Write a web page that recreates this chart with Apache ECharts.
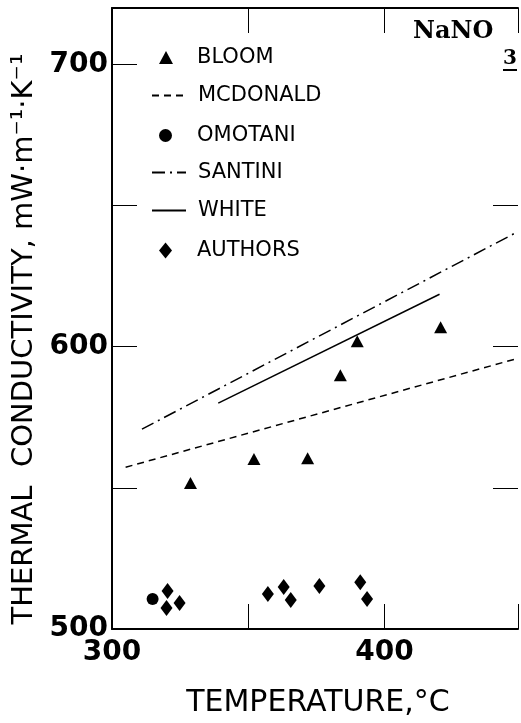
<!DOCTYPE html>
<html>
<head>
<meta charset="utf-8">
<script src="https://cdn.jsdelivr.net/npm/echarts@6/dist/echarts.min.js"></script>
<style>
  html, body { margin: 0; padding: 0; background: #fff; }
  #chart { width: 521px; height: 723px; }
</style>
</head>
<body>
<div id="chart"></div>
<script>
// datos (NaNO3)
const bloomT = [328.8, 352.1, 371.8, 383.8, 390.0, 420.6];
const bloomK = [551.7, 560.2, 560.5, 589.9, 601.9, 606.9];

const authorsT = [320.4, 320.0, 324.8, 357.2, 363.0, 365.6, 376.1, 391.1, 393.6];
const authorsK = [513.5, 507.4, 509.2, 512.4, 514.9, 510.3, 515.2, 516.6, 510.6];

const omotaniT = [314.9];
const omotaniK = [510.6];

// rectas: [T inicial, T final], [K inicial, K final]
const mcdonaldT = [305, 449];
const mcdonaldK = [557.3, 595.9];
const santiniT = [311, 449];
const santiniK = [570.8, 640.8];
const whiteT = [339, 420.2];
const whiteK = [580.0, 618.6];

const xLabels = [300, 400];
const yLabels = [500, 600, 700];
const rightTicks = [550, 600, 650];

const pares = (xs, ys) => xs.map((x, i) => [x, ys[i]]);

const chart = echarts.init(document.getElementById('chart'));

const negro = '#000';
const fuente = 'DejaVu Sans';
const relleno = { color: negro, opacity: 1 };

const ejeBase = {
  axisLine: { show: true, lineStyle: { color: negro, width: 2 } },
  axisTick: { show: true, inside: true, length: 25, lineStyle: { color: negro, width: 1 } },
  splitLine: { show: false }
};

// una leyenda por fila, para que los simbolos no se deformen
const filasLeyenda = [
  { name: 'BLOOM', icon: 'triangle', w: 14, h: 13, y: 57 },
  { name: 'MCDONALD', y: 95 },
  { name: 'OMOTANI', icon: 'circle', w: 13, h: 13, y: 135 },
  { name: 'SANTINI', y: 172 },
  { name: 'WHITE', y: 210 },
  { name: 'AUTHORS', icon: 'diamond', w: 13, h: 16, y: 250 }
];

const leyendas = filasLeyenda.map(f => {
  const esSimbolo = !!f.icon;
  return {
    orient: 'vertical',
    left: esSimbolo ? 159 : 151,
    top: f.y - 10,
    padding: 0,
    itemWidth: esSimbolo ? f.w : 34,
    itemHeight: esSimbolo ? f.h : 13,
    textStyle: {
      color: negro, fontSize: 21, fontFamily: fuente, lineHeight: 20,
      padding: [0, 0, 0, esSimbolo ? 33 - f.w : 7]
    },
    data: [esSimbolo
      ? { name: f.name, icon: f.icon, itemStyle: relleno }
      : { name: f.name, itemStyle: { opacity: 0 } }]
  };
});

let option = {
  backgroundColor: '#fff',
  animation: false,
  color: [negro],
  grid: { left: 112, top: 8, right: 0, bottom: 94 },
  legend: leyendas,
  xAxis: [
    Object.assign({}, ejeBase, {
      type: 'value', position: 'bottom', min: 300, max: 449, interval: 50,
      axisLabel: {
        color: negro, fontSize: 28, fontWeight: 'bold', fontFamily: fuente, margin: 10,
        formatter: v => (xLabels.includes(v) ? String(v) : '')
      },
      name: 'TEMPERATURE,°C',
      nameLocation: 'middle',
      nameGap: 59,
      nameTextStyle: { color: negro, fontSize: 30, fontFamily: fuente, padding: [0, 0, 0, 6] }
    }),
    Object.assign({}, ejeBase, {
      type: 'value', position: 'top', min: 300, max: 449, interval: 50,
      axisLabel: { show: false }
    })
  ],
  yAxis: [
    Object.assign({}, ejeBase, {
      type: 'value', position: 'left', min: 500, max: 720, interval: 50,
      axisLabel: {
        color: negro, fontSize: 28, fontWeight: 'bold', fontFamily: fuente, margin: 4,
        formatter: v => (yLabels.includes(v) ? String(v) : '')
      },
      name: 'THERMAL  CONDUCTIVITY, mW·m⁻¹·K⁻¹',
      nameLocation: 'middle',
      nameGap: 66,
      nameTextStyle: { color: negro, fontSize: 29, fontFamily: fuente, padding: [0, 41, 0, 0] }
    }),
    Object.assign({}, ejeBase, {
      type: 'value', position: 'right', min: 500, max: 720, interval: 50,
      axisLine: { show: false },
      axisTick: Object.assign({}, ejeBase.axisTick, { customValues: rightTicks }),
      axisLabel: { show: false }
    })
  ],
  series: [
    {
      name: 'BLOOM', type: 'scatter', symbol: 'triangle', symbolSize: [13, 12],
      itemStyle: relleno, data: pares(bloomT, bloomK)
    },
    {
      name: 'MCDONALD', type: 'line', symbol: 'none',
      lineStyle: { color: negro, width: 1.5, type: [7, 5] },
      data: pares(mcdonaldT, mcdonaldK)
    },
    {
      name: 'OMOTANI', type: 'scatter', symbol: 'circle', symbolSize: 12,
      itemStyle: relleno, data: pares(omotaniT, omotaniK)
    },
    {
      name: 'SANTINI', type: 'line', symbol: 'none',
      lineStyle: { color: negro, width: 1.5, type: [13, 5, 2, 5] },
      data: pares(santiniT, santiniK)
    },
    {
      name: 'WHITE', type: 'line', symbol: 'none',
      lineStyle: { color: negro, width: 1.5 },
      data: pares(whiteT, whiteK)
    },
    {
      name: 'AUTHORS', type: 'scatter', symbol: 'diamond', symbolSize: [12, 16],
      itemStyle: relleno, data: pares(authorsT, authorsK)
    }
  ],
  graphic: [
    {
      type: 'text', left: 413, top: 20,
      style: { text: 'NaNO', fill: negro, font: 'bold 24px "DejaVu Serif"' }
    },
    {
      type: 'text', left: 503, top: 49,
      style: { text: '3', fill: negro, font: 'bold 20px "DejaVu Serif"' }
    },
    {
      type: 'line', shape: { x1: 503, y1: 70, x2: 517, y2: 70 },
      style: { stroke: negro, lineWidth: 2 }
    }
  ]
};

chart.setOption(option);
</script>
</body>
</html>
